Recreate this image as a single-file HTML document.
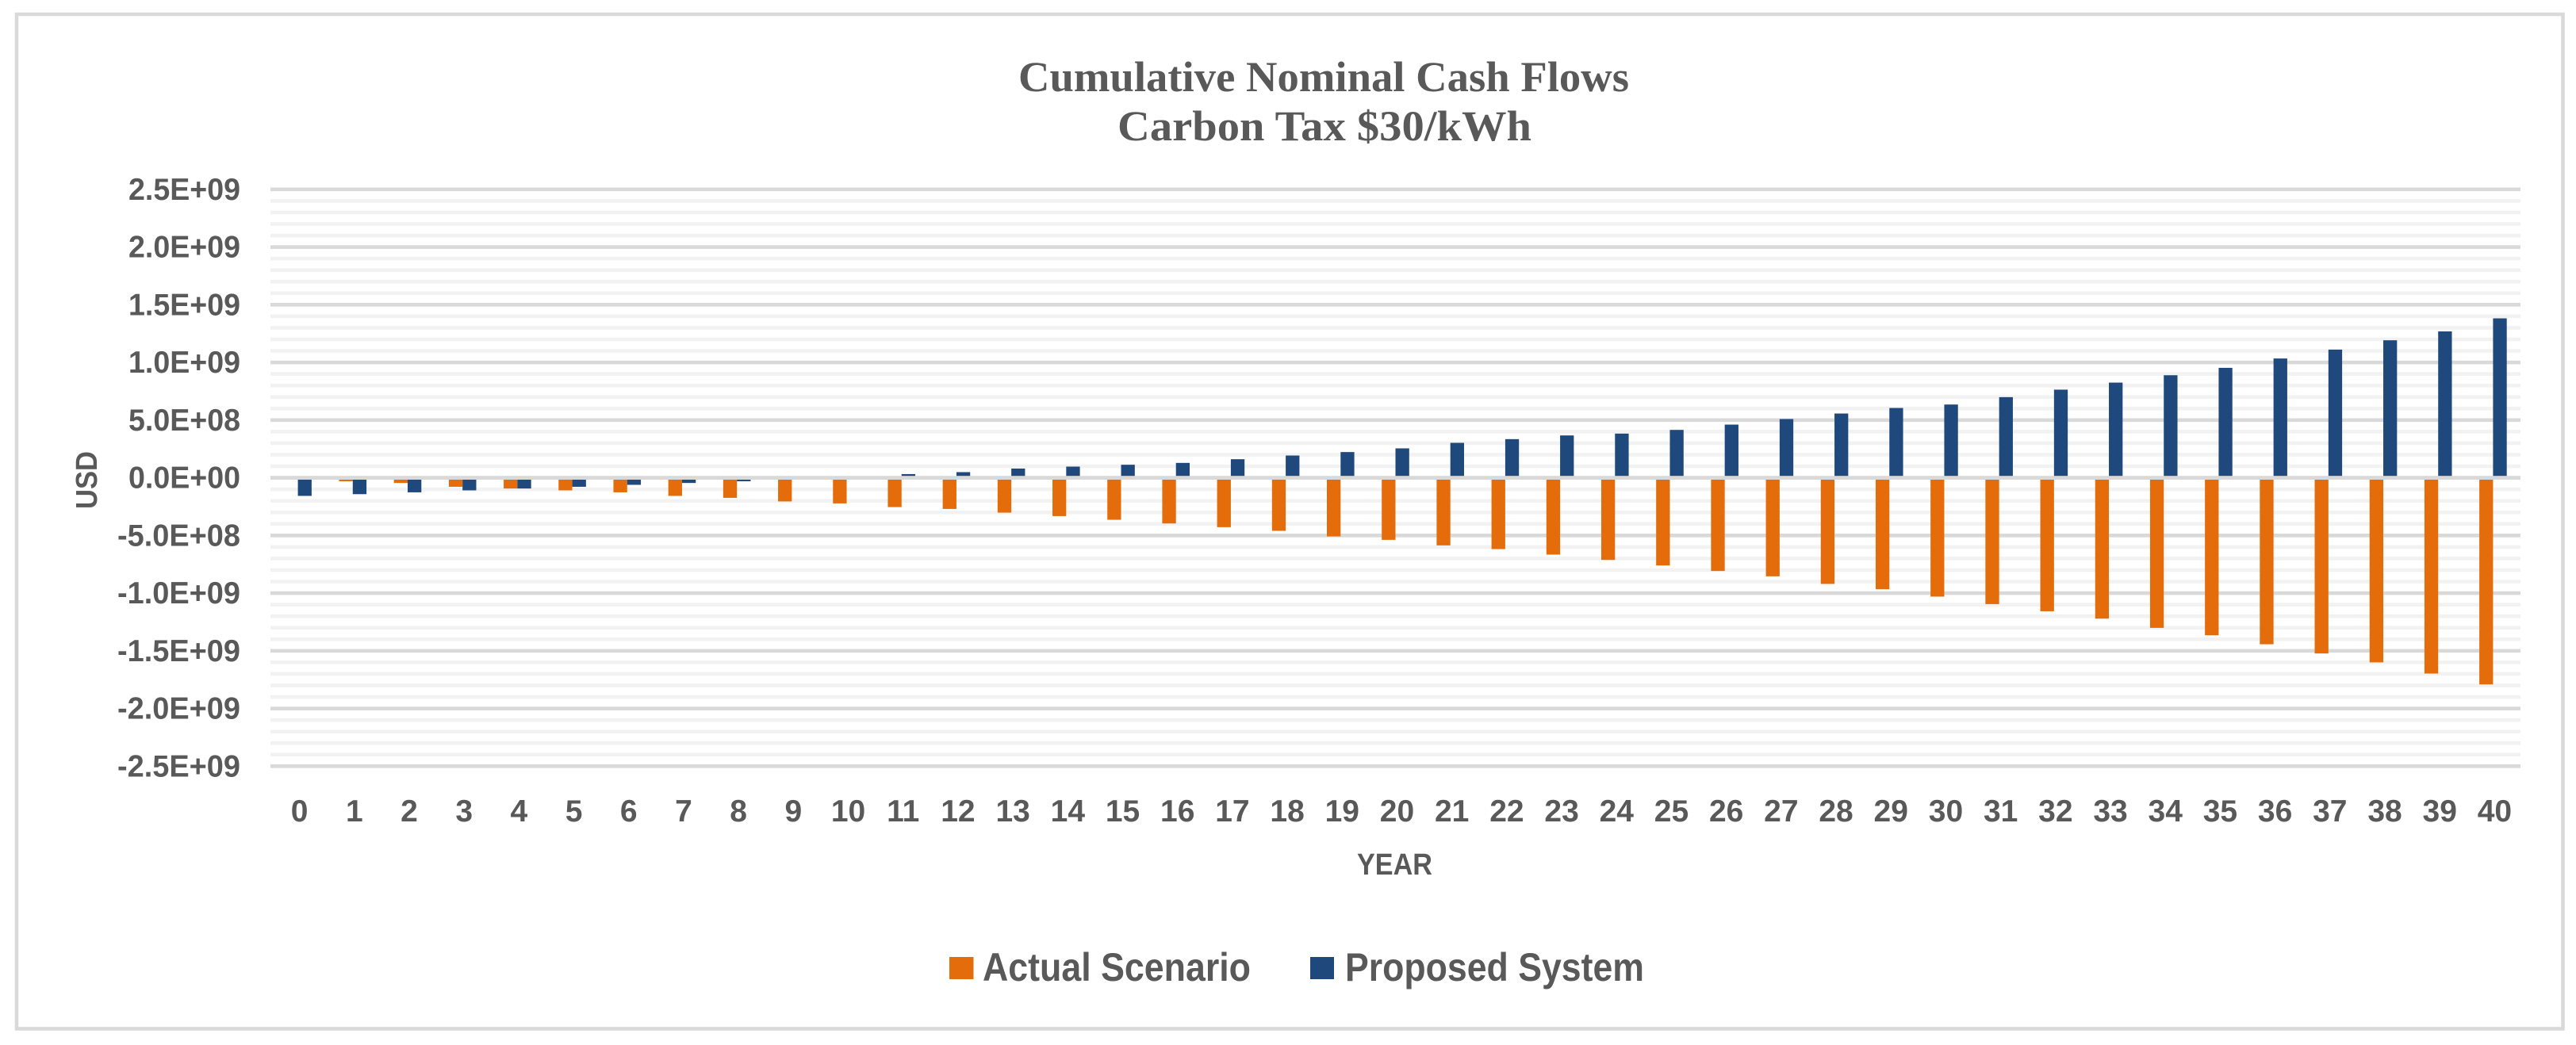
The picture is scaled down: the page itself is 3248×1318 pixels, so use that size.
<!DOCTYPE html>
<html lang="en">
<head>
<meta charset="utf-8">
<title>Cumulative Nominal Cash Flows</title>
<style>
html,body{margin:0;padding:0;background:#fff;width:3248px;height:1318px;overflow:hidden}
svg{display:block}
text{fill:#595959;font-family:"Liberation Sans",sans-serif;font-weight:bold}
.title{font-family:"Liberation Serif",serif;font-size:54px}
.tick{font-size:39px}
.axis{font-size:38px}
.legend{font-size:50px}
</style>
</head>
<body>
<svg id="chart" xmlns="http://www.w3.org/2000/svg" width="3248" height="1318" viewBox="0 0 3248 1318">
  <rect x="21" y="18" width="3210.5" height="1279.5" fill="#fff" stroke="#d9d9d9" stroke-width="4.5"/>
  <text class="title" x="1284" y="115" textLength="770" lengthAdjust="spacingAndGlyphs">Cumulative Nominal Cash Flows</text>
  <text class="title" x="1409" y="177" textLength="522" lengthAdjust="spacingAndGlyphs">Carbon Tax $30/kWh</text>
  <g id="grid"></g>
  <g id="bars"></g>
  <g id="zero"></g>
  <g id="yticks"></g>
  <g id="xticks"></g>
  <text class="axis" transform="translate(122,642) rotate(-90)" x="0" y="0" textLength="73" lengthAdjust="spacingAndGlyphs">USD</text>
  <text class="axis" x="1711" y="1103" textLength="95" lengthAdjust="spacingAndGlyphs">YEAR</text>
  <rect x="1197" y="1207" width="30.5" height="28" fill="#e46c0a"/>
  <text class="legend" x="1239" y="1237" textLength="338" lengthAdjust="spacingAndGlyphs">Actual Scenario</text>
  <rect x="1652" y="1207" width="30" height="28" fill="#1f497d"/>
  <text class="legend" x="1696" y="1237" textLength="377" lengthAdjust="spacingAndGlyphs">Proposed System</text>
</svg>
<script>
const years = [0,1,2,3,4,5,6,7,8,9,10,11,12,13,14,15,16,17,18,19,20,21,22,23,24,25,26,27,28,29,30,31,32,33,34,35,36,37,38,39,40];
const actualScenario = [0,-0.30e8,-0.45e8,-0.78e8,-0.93e8,-1.09e8,-1.26e8,-1.57e8,-1.74e8,-2.05e8,-2.22e8,-2.54e8,-2.70e8,-3.02e8,-3.32e8,-3.64e8,-3.96e8,-4.28e8,-4.60e8,-5.08e8,-5.38e8,-5.86e8,-6.18e8,-6.66e8,-7.12e8,-7.60e8,-8.08e8,-8.54e8,-9.20e8,-9.66e8,-10.30e8,-10.95e8,-11.57e8,-12.21e8,-13.01e8,-13.65e8,-14.43e8,-15.23e8,-16.00e8,-16.97e8,-17.91e8];
const proposedSystem = [-1.57e8,-1.42e8,-1.26e8,-1.09e8,-0.93e8,-0.78e8,-0.61e8,-0.45e8,-0.30e8,-0.12e8,0.02e8,0.32e8,0.49e8,0.80e8,0.97e8,1.13e8,1.29e8,1.61e8,1.93e8,2.23e8,2.55e8,3.03e8,3.35e8,3.67e8,3.83e8,4.15e8,4.61e8,5.09e8,5.57e8,6.05e8,6.35e8,6.99e8,7.64e8,8.25e8,8.89e8,9.53e8,10.34e8,11.11e8,11.92e8,12.69e8,13.82e8];
const yTickValues = [2.5e9,2.0e9,1.5e9,1.0e9,5.0e8,0,-5.0e8,-1.0e9,-1.5e9,-2.0e9,-2.5e9];
const yTickLabels = ["2.5E+09","2.0E+09","1.5E+09","1.0E+09","5.0E+08","0.0E+00","-5.0E+08","-1.0E+09","-1.5E+09","-2.0E+09","-2.5E+09"];
const minorPerMajor = 5;

const NS = "http://www.w3.org/2000/svg";
const plotLeft = 341, plotRight = 3178;
const zeroY = 602.6, pxPerUnit = 72.75 / 5e8;
const slot = (plotRight - plotLeft) / years.length;
const barW = slot / 4;
function yPos(v) { return zeroY - v * pxPerUnit; }
function xCenter(i) { return plotLeft + slot * (i + 0.5); }
function make(tag, attrs, parent) {
  const el = document.createElementNS(NS, tag);
  for (const k in attrs) el.setAttribute(k, attrs[k]);
  parent.appendChild(el);
  return el;
}

const grid = document.getElementById("grid");
const step = yTickValues[0] - yTickValues[1];
for (let m = 0; m < yTickValues.length - 1; m++) {
  for (let k = 1; k < minorPerMajor; k++) {
    const v = yTickValues[m] - step * k / minorPerMajor;
    const minor = make("rect", {x: plotLeft, y: yPos(v) - 2.3, width: plotRight - plotLeft, height: 4.6, fill: "#f2f2f2"}, grid);
    
    
  }
}
yTickValues.forEach(function (v) {
  if (v === 0) return;
  const major = make("rect", {x: plotLeft, y: yPos(v) - 2.3, width: plotRight - plotLeft, height: 4.6, fill: "#d9d9d9"}, grid);
  
  
});

const bars = document.getElementById("bars");
years.forEach(function (yr, i) {
  const a = actualScenario[i], p = proposedSystem[i];
  const cx = xCenter(i);
  const ya = yPos(a), yp = yPos(p), y0 = yPos(0);
  const barA = make("rect", {x: cx - barW, y: Math.min(ya, y0), width: barW, height: Math.abs(ya - y0), fill: "#e46c0a"}, bars);
  
  
  const barP = make("rect", {x: cx, y: Math.min(yp, y0), width: barW, height: Math.abs(yp - y0), fill: "#1f497d"}, bars);
  
  
});

const zeroLine = make("rect", {x: plotLeft, y: yPos(0) - 2.4, width: plotRight - plotLeft, height: 4.8, fill: "#d9d9d9"}, document.getElementById("zero"));



const yt = document.getElementById("yticks");
yTickValues.forEach(function (v, i) {
  const label = yTickLabels[i];
  const w = label.charAt(0) === "-" ? 155 : 141;
  const t = make("text", {class: "tick", x: 303 - w, y: yPos(v) + 13, textLength: w, lengthAdjust: "spacingAndGlyphs"}, yt);
  
  
  t.textContent = label;
});

const xt = document.getElementById("xticks");
years.forEach(function (yr, i) {
  const t = make("text", {class: "tick", x: xCenter(i) + 2, y: 1036, "text-anchor": "middle"}, xt);
  
  
  t.textContent = String(yr);
});
</script>
</body>
</html>
